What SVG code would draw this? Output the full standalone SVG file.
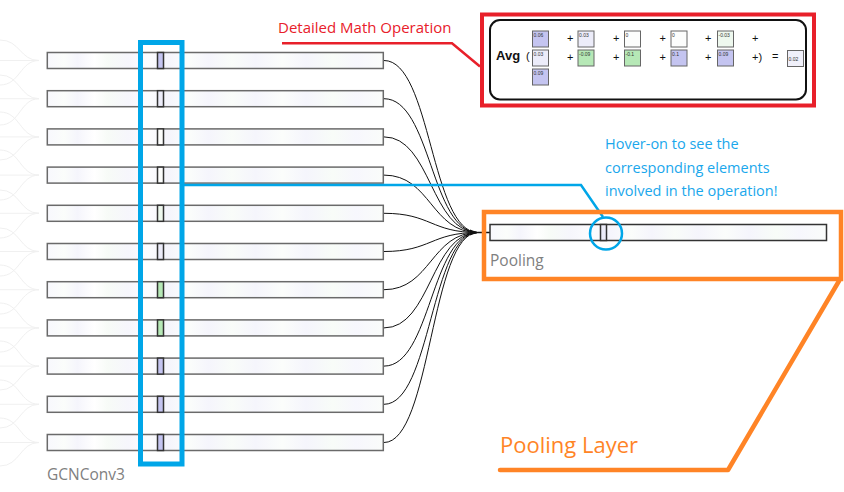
<svg xmlns="http://www.w3.org/2000/svg" width="844" height="492" viewBox="0 0 844 492">
<defs>
<linearGradient id="stripe" x1="0" y1="0" x2="1" y2="0">
<stop offset="0" stop-color="#f8f8fd"/><stop offset="0.05" stop-color="#fbfdfb"/><stop offset="0.09" stop-color="#f5f5fc"/><stop offset="0.14" stop-color="#ffffff"/><stop offset="0.18" stop-color="#f7fbf7"/><stop offset="0.24" stop-color="#f6f6fc"/><stop offset="0.3" stop-color="#fcfcfe"/><stop offset="0.36" stop-color="#f5f5fc"/><stop offset="0.42" stop-color="#fbfdfb"/><stop offset="0.48" stop-color="#f5f5fc"/><stop offset="0.55" stop-color="#f9fcf9"/><stop offset="0.62" stop-color="#f5f5fc"/><stop offset="0.7" stop-color="#fbfdfb"/><stop offset="0.77" stop-color="#f5f5fc"/><stop offset="0.85" stop-color="#f8fcf8"/><stop offset="0.92" stop-color="#f7f7fd"/><stop offset="1" stop-color="#fafcfa"/>
</linearGradient>
<style>
.bar{fill:url(#stripe);stroke:#6a6a6a;stroke-width:1.5}
.cell{stroke:#333;stroke-width:1.5}
.lnk{fill:none;stroke:#111;stroke-width:1}
.faint{fill:none;stroke:#f0f0f0;stroke-width:1}
.lbl{font-family:"Open Sans","Noto Sans",sans-serif;fill:#808080;font-size:15.5px}
.mb{stroke:#666;stroke-width:1}
.mt{font-family:"Liberation Sans",sans-serif;font-size:5px;fill:#333}
.op{font-family:"Liberation Sans",sans-serif;font-size:11px;fill:#111}
.pur{fill:#c4c4f0}.lav{fill:#ececf9}.wht{fill:#fcfdfc}.lgr{fill:#eef8ee}.grn{fill:#b6e8b6}.res{fill:#f0f0fa}
</style>
</defs>
<rect width="844" height="492" fill="#fff"/>
<g id="faint-inputs">
<path class="faint" d="M0,40 C20,40 20,60.5 39,60.5 M0,85 C20,85 20,60.5 39,60.5 M0,60.5 H39"/>
<path class="faint" d="M0,75 C20,75 20,98.7 39,98.7 M0,125 C20,125 20,98.7 39,98.7 M0,98.7 H39"/>
<path class="faint" d="M0,112 C20,112 20,136.9 39,136.9 M0,160 C20,160 20,136.9 39,136.9 M0,136.9 H39"/>
<path class="faint" d="M0,150 C20,150 20,175.1 39,175.1 M0,200 C20,200 20,175.1 39,175.1 M0,175.1 H39"/>
<path class="faint" d="M0,190 C20,190 20,213.3 39,213.3 M0,238 C20,238 20,213.3 39,213.3 M0,213.3 H39"/>
<path class="faint" d="M0,228 C20,228 20,251.5 39,251.5 M0,276 C20,276 20,251.5 39,251.5 M0,251.5 H39"/>
<path class="faint" d="M0,265 C20,265 20,289.7 39,289.7 M0,314 C20,314 20,289.7 39,289.7 M0,289.7 H39"/>
<path class="faint" d="M0,303 C20,303 20,327.9 39,327.9 M0,352 C20,352 20,327.9 39,327.9 M0,327.9 H39"/>
<path class="faint" d="M0,341 C20,341 20,366.1 39,366.1 M0,390 C20,390 20,366.1 39,366.1 M0,366.1 H39"/>
<path class="faint" d="M0,380 C20,380 20,404.3 39,404.3 M0,428 C20,428 20,404.3 39,404.3 M0,404.3 H39"/>
<path class="faint" d="M0,418 C20,418 20,442.5 39,442.5 M0,466 C20,466 20,442.5 39,442.5 M0,442.5 H39"/>
</g>
<g id="connectors">
<path class="lnk" d="M384,60.5 C431,60.5 431,232.5 478,232.5"/>
<path class="lnk" d="M384,98.7 C431,98.7 431,232.5 478,232.5"/>
<path class="lnk" d="M384,136.9 C431,136.9 431,232.5 478,232.5"/>
<path class="lnk" d="M384,175.1 C431,175.1 431,232.5 478,232.5"/>
<path class="lnk" d="M384,213.3 C431,213.3 431,232.5 478,232.5"/>
<path class="lnk" d="M384,251.5 C431,251.5 431,232.5 478,232.5"/>
<path class="lnk" d="M384,289.7 C431,289.7 431,232.5 478,232.5"/>
<path class="lnk" d="M384,327.9 C431,327.9 431,232.5 478,232.5"/>
<path class="lnk" d="M384,366.1 C431,366.1 431,232.5 478,232.5"/>
<path class="lnk" d="M384,404.3 C431,404.3 431,232.5 478,232.5"/>
<path class="lnk" d="M384,442.5 C431,442.5 431,232.5 478,232.5"/>
<path d="M478,232.5 H490" stroke="#111" stroke-width="1.5"/>
<path d="M470,229.5 L478,232.5 L470,235.5 Z" fill="#111"/>
</g>
<g id="gcnconv3">
<rect class="bar" x="47.3" y="52.5" width="336" height="16"/><rect class="cell pur" x="157.5" y="52.5" width="6" height="16"/>
<rect class="bar" x="47.3" y="90.7" width="336" height="16"/><rect class="cell lav" x="157.5" y="90.7" width="6" height="16"/>
<rect class="bar" x="47.3" y="128.9" width="336" height="16"/><rect class="cell wht" x="157.5" y="128.9" width="6" height="16"/>
<rect class="bar" x="47.3" y="167.1" width="336" height="16"/><rect class="cell wht" x="157.5" y="167.1" width="6" height="16"/>
<rect class="bar" x="47.3" y="205.3" width="336" height="16"/><rect class="cell lgr" x="157.5" y="205.3" width="6" height="16"/>
<rect class="bar" x="47.3" y="243.5" width="336" height="16"/><rect class="cell lav" x="157.5" y="243.5" width="6" height="16"/>
<rect class="bar" x="47.3" y="281.7" width="336" height="16"/><rect class="cell grn" x="157.5" y="281.7" width="6" height="16"/>
<rect class="bar" x="47.3" y="319.9" width="336" height="16"/><rect class="cell grn" x="157.5" y="319.9" width="6" height="16"/>
<rect class="bar" x="47.3" y="358.1" width="336" height="16"/><rect class="cell pur" x="157.5" y="358.1" width="6" height="16"/>
<rect class="bar" x="47.3" y="396.3" width="336" height="16"/><rect class="cell pur" x="157.5" y="396.3" width="6" height="16"/>
<rect class="bar" x="47.3" y="434.5" width="336" height="16"/><rect class="cell pur" x="157.5" y="434.5" width="6" height="16"/>
<text class="lbl" x="47" y="480" font-size="16.5">GCNConv3</text>
</g>
<g id="pooling">
<rect class="bar" x="490" y="224.5" width="336.5" height="16" style="stroke:#333"/>
<rect class="cell lav" x="600.5" y="224.5" width="6" height="16"/>
<text class="lbl" x="490" y="266">Pooling</text>
</g>
<g id="blue-highlight" fill="none" stroke="#00a6e8">
<rect x="140.5" y="42.5" width="41.5" height="421.5" stroke-width="5"/>
<path d="M182,185 H581 L603,217" stroke-width="2.5"/>
<circle cx="606" cy="233.5" r="16" stroke-width="2.5"/>
</g>
<g id="hover-note" font-family="'Open Sans','Noto Sans',sans-serif" font-size="14.5" fill="#1aa7ec">
<text x="605" y="148.5">Hover-on to see the</text>
<text x="605" y="172.5">corresponding elements</text>
<text x="605" y="196">involved in the operation!</text>
</g>
<g id="pooling-layer" fill="none" stroke="#ff8426" stroke-width="4.5">
<rect x="484" y="212" width="357" height="67"/>
<path d="M839,281 L728,470 H500" stroke-linecap="round" stroke-linejoin="round"/>
<text x="500" y="453" font-family="'Open Sans','Noto Sans',sans-serif" font-size="22" fill="#ff8426" stroke="none">Pooling Layer</text>
</g>
<g id="math-callout">
<text x="278" y="33" font-family="'Open Sans','Noto Sans',sans-serif" font-size="15" fill="#e8202a">Detailed Math Operation</text>
<path d="M282,43.3 H452 L480,66.5" fill="none" stroke="#e8202a" stroke-width="2.5"/>
<rect x="482" y="14.5" width="332" height="91" fill="none" stroke="#e8202a" stroke-width="4"/>
</g>
<g id="math-box">
<rect x="490" y="20" width="316" height="79.5" rx="10" fill="#fff" stroke="#111" stroke-width="2"/>
<text x="496" y="60" font-family="'Liberation Sans',sans-serif" font-size="13" font-weight="bold" fill="#111">Avg</text>
<text class="op" x="526" y="60">(</text>
<rect class="mb pur" x="532.5" y="31" width="16" height="16"/><text class="mt" x="533.5" y="37">0.06</text>
<rect class="mb lav" x="532.5" y="50" width="16" height="16"/><text class="mt" x="533.5" y="56">0.03</text>
<rect class="mb pur" x="532.5" y="69" width="16" height="16"/><text class="mt" x="533.5" y="75">0.09</text>
<text class="op" x="567" y="42">+</text><text class="op" x="567" y="61">+</text>
<rect class="mb lav" x="578" y="31" width="16" height="16"/><text class="mt" x="579" y="37">0.03</text>
<rect class="mb grn" x="578" y="50" width="16" height="16"/><text class="mt" x="579" y="56">-0.09</text>
<text class="op" x="613" y="42">+</text><text class="op" x="613" y="61">+</text>
<rect class="mb wht" x="624.5" y="31" width="16" height="16"/><text class="mt" x="625.5" y="37">0</text>
<rect class="mb grn" x="624.5" y="50" width="16" height="16"/><text class="mt" x="625.5" y="56">-0.1</text>
<text class="op" x="659.5" y="42">+</text><text class="op" x="659.5" y="61">+</text>
<rect class="mb wht" x="671" y="31" width="16" height="16"/><text class="mt" x="672" y="37">0</text>
<rect class="mb pur" x="671" y="50" width="16" height="16"/><text class="mt" x="672" y="56">0.1</text>
<text class="op" x="705" y="42">+</text><text class="op" x="705" y="61">+</text>
<rect class="mb lgr" x="717.5" y="31" width="16" height="16"/><text class="mt" x="718.5" y="37">-0.03</text>
<rect class="mb pur" x="717.5" y="50" width="16" height="16"/><text class="mt" x="718.5" y="56">0.09</text>
<text class="op" x="752" y="42">+</text><text class="op" x="752" y="61">+)</text>
<text class="op" x="772" y="60">=</text>
<rect class="mb res" x="787.5" y="50.5" width="16" height="16"/><text class="mt" x="788.5" y="60.5">0.02</text>
</g>
</svg>
